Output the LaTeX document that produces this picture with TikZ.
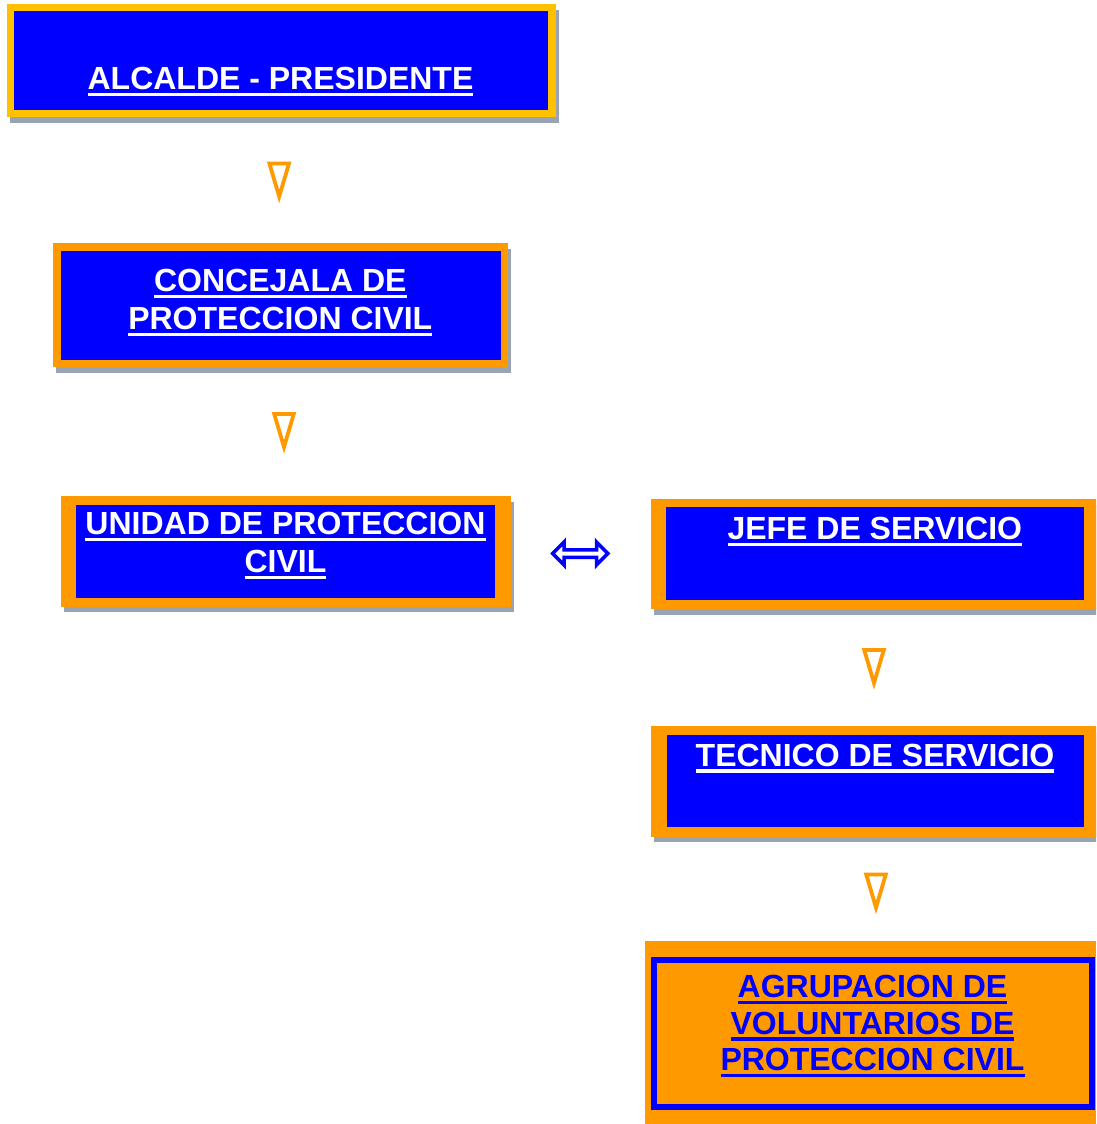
\documentclass[tikz,border=0pt]{standalone}
\usepackage{fontspec}
\setmainfont{Liberation Sans}
\usetikzlibrary{shadows}
\definecolor{boxorange}{RGB}{255,153,0}
\definecolor{boxgold}{RGB}{255,192,0}
\definecolor{boxblue}{RGB}{0,0,255}
\definecolor{boxshade}{RGB}{152,163,180}
\newcommand{\ult}[1]{\setbox0=\hbox{#1}\rlap{\rule[-6.5pt]{\wd0}{3.3pt}}\box0}
\setlength{\tabcolsep}{0pt}
\begin{document}
\begin{tikzpicture}[x=1pt,y=-1pt,
  every node/.style={inner sep=0pt, outer sep=0pt},
  frame/.style={fill=boxorange, anchor=north west,
    drop shadow={shadow xshift=3pt, shadow yshift=-5.5pt, fill=boxshade, opacity=1}},
  goldframe/.style={frame, fill=boxgold},
  panel/.style={fill=boxblue, anchor=north west},
  lbl/.style={anchor=base, text=white, font=\fontsize{32}{#1}\selectfont\bfseries},
  lbl/.default=37.5,
  tri/.style={draw=boxorange, line width=3.8pt, line join=miter, fill=white},
  downtri/.pic={\draw[tri] (-9.8,1.9) -- (9.8,1.9) -- (0,35) -- cycle;},
  dblarrow/.style={draw=boxblue, line width=3.5pt, line join=miter, fill=white}
]
\path[use as bounding box, clip] (0,0) rectangle (1096,1124);

% ALCALDE - PRESIDENTE
\node[goldframe, minimum width=549.5, minimum height=112.8] (b1) at (6.5,4.5) {};
\node[panel, minimum width=534.6, minimum height=99] (p1) at (13.8,11) {};
\node[lbl] (t1) at (280.5,89.5) {\ult{ALCALDE - PRESIDENTE}};

\pic at (279.2,161.5) {downtri};

% CONCEJALA
\node[frame, minimum width=455, minimum height=124] (b2) at (52.7,243.3) {};
\node[panel, minimum width=440.3, minimum height=109] (p2) at (60.7,251) {};
\node[lbl=37.6] (t2) at (280.3,291.7) {\begin{tabular}[t]{c}\ult{CONCEJALA DE}\\\ult{PROTECCION CIVIL}\end{tabular}};

\pic at (284,412) {downtri};

% UNIDAD
\node[frame, minimum width=449.5, minimum height=110.7] (b3) at (61,496) {};
\node[panel, minimum width=419.2, minimum height=93.3] (p3) at (75.6,505) {};
\node[lbl=38.4] (t3) at (285.5,534.3) {\begin{tabular}[t]{c}\ult{UNIDAD DE PROTECCION}\\\ult{CIVIL}\end{tabular}};

% double arrow
\coordinate (da) at (580.5,553.5);
\draw[dblarrow] (da) ++(-27.8,0) -- ++(11.3,-11.5) -- ++(0,7.75) -- ++(32.5,0) -- ++(0,-7.75)
  -- ++(11.3,11.5) -- ++(-11.3,11.5) -- ++(0,-7.75) -- ++(-32.5,0) -- ++(0,7.75) -- cycle;

% JEFE
\node[frame, minimum width=448, minimum height=110.3] (b4) at (651,499) {};
\node[panel, minimum width=418, minimum height=92.7] (p4) at (666,507.3) {};
\node[lbl] (t4) at (874.8,539.3) {\ult{JEFE DE SERVICIO}};

\pic at (874,648) {downtri};

% TECNICO
\node[frame, minimum width=448, minimum height=110.7] (b5) at (651,726) {};
\node[panel, minimum width=417.3, minimum height=91.7] (p5) at (666.7,735) {};
\node[lbl] (t5) at (875,766) {\ult{TECNICO DE SERVICIO}};

\pic at (876,872.5) {downtri};

% AGRUPACION
\node[fill=boxorange, anchor=north west, minimum width=451, minimum height=183.3] (b6) at (645,940.7) {};
\node[draw=boxblue, line width=6pt, anchor=north west, minimum width=437.5, minimum height=146.9] (p6) at (654.2,960.3) {};
\node[lbl=36.5, text=boxblue] (t6) at (872.5,997.7) {\begin{tabular}[t]{c}\ult{AGRUPACION DE}\\\ult{VOLUNTARIOS DE}\\\ult{PROTECCION CIVIL}\end{tabular}};
\end{tikzpicture}
\end{document}
